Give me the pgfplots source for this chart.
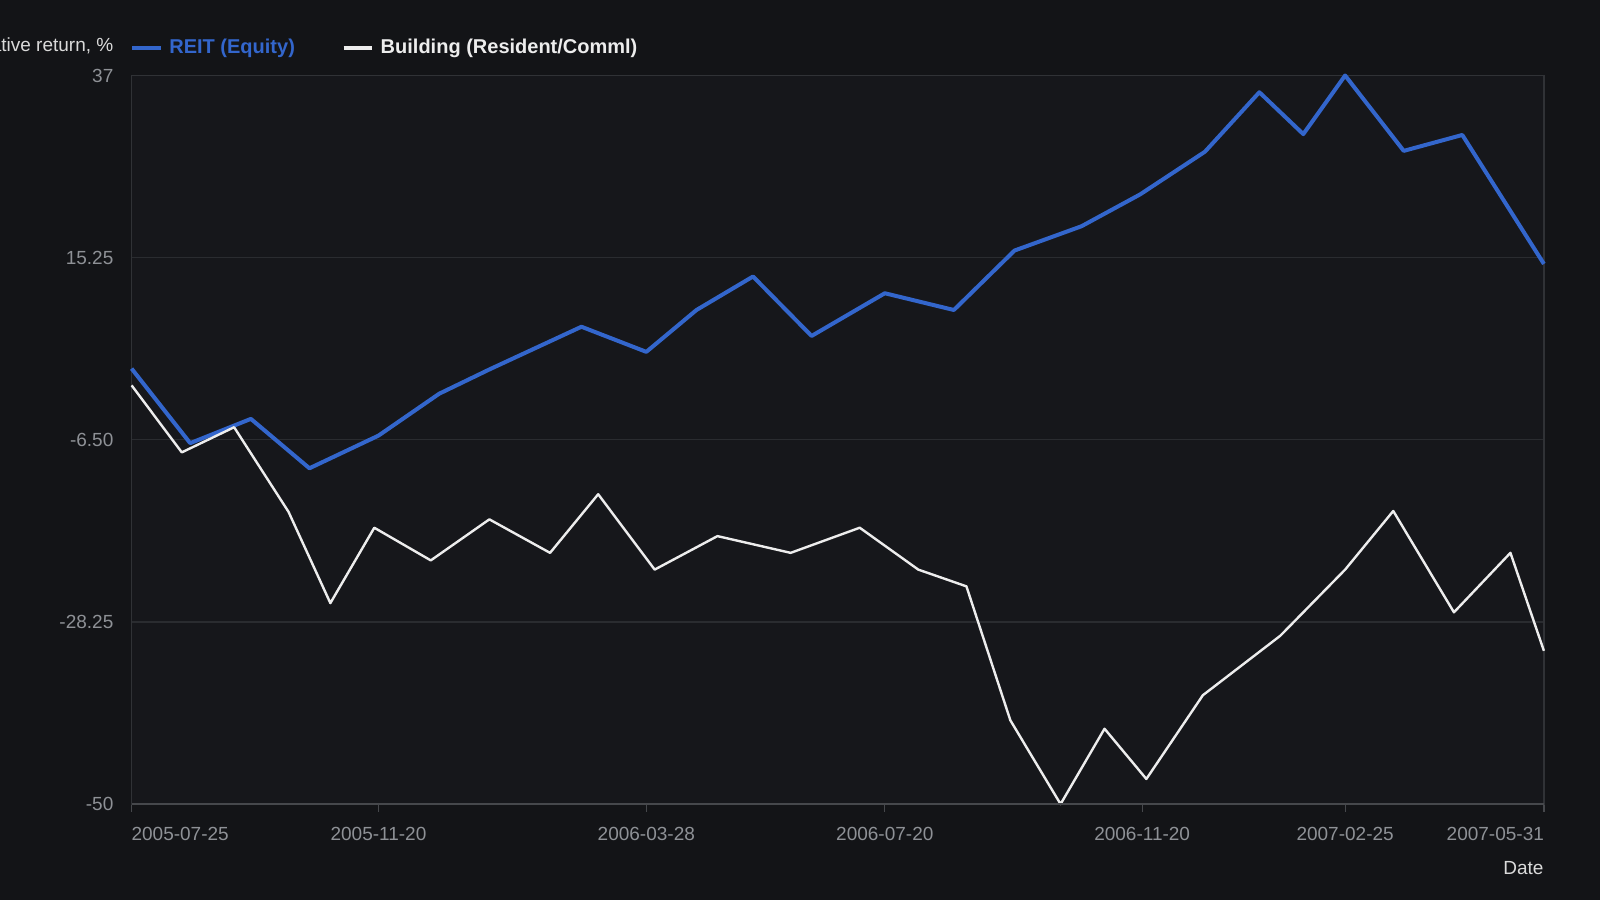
\documentclass[border=0pt]{standalone}
\usepackage{fontspec}
\setmainfont{Liberation Sans}
\usepackage{pgfplots}
\pgfplotsset{compat=1.18}

\definecolor{bg}{HTML}{131417}
\definecolor{plotbg}{HTML}{16171B}
\definecolor{gridc}{HTML}{2A2C30}
\definecolor{axisc}{HTML}{303236}
\definecolor{basec}{HTML}{46484C}
\definecolor{tickc}{HTML}{8E9196}
\definecolor{labelc}{HTML}{DADADA}
\definecolor{reit}{HTML}{3366CC}
\definecolor{bldg}{HTML}{EDEDED}

\begin{document}
\begin{tikzpicture}
\fill[bg] (0,0) rectangle (800pt,450pt);
\useasboundingbox (0,0) rectangle (800pt,450pt);

\begin{axis}[
  at={(65.8pt,47.95pt)}, anchor=south west,
  scale only axis,
  width=706.15pt, height=364.3pt,
  xmin=0, xmax=675,
  ymin=-50, ymax=37,
  clip=false,
  axis background/.style={fill=plotbg},
  axis line style={draw=axisc, line width=0.7pt},
  ymajorgrids,
  grid style={draw=gridc, line width=0.6pt},
  tick pos=left,
  tick align=outside,
  major tick length=4pt,
  xtick style={draw=basec, line width=0.6pt},
  ytick style={draw=none},
  xtick={0,118,246,360,483,580,675},
  xticklabels={\makebox[0pt][l]{2005-07-25},2005-11-20,2006-03-28,2006-07-20,2006-11-20,2007-02-25,\makebox[0pt][r]{2007-05-31}},
  ytick={-50,-28.25,-6.5,15.25,37},
  yticklabels={-50,-28.25,-6.50,15.25,37},
  tick label style={font=\fontsize{9.5}{11}\selectfont, text=tickc},
  xticklabel style={yshift=-4.2pt},
  yticklabel style={xshift=-1.6pt},
  ylabel={Cumulative return, \%},
  xlabel={Date},
  every axis y label/.style={at={(rel axis cs:0,1)}, anchor=east, xshift=-5.6pt, yshift=15pt,
    font=\fontsize{9.5}{11}\selectfont, text=labelc},
  every axis x label/.style={at={(rel axis cs:1,0)}, anchor=east, inner sep=0pt, yshift=-31.8pt,
    font=\fontsize{9.5}{11}\selectfont, text=labelc},
  legend columns=2,
  legend image code/.code={\draw[#1, line width=2pt] (0pt,0pt) -- (14.3pt,0pt);},
  legend style={at={(rel axis cs:0,1)}, anchor=west, xshift=-0.8pt, yshift=13.9pt,
    draw=none, fill=none, inner sep=0pt,
    nodes={inner sep=0pt, font=\fontsize{10}{12}\selectfont\bfseries},
    /tikz/every odd column/.append style={column sep=3.2pt},
    /tikz/every even column/.append style={column sep=23.4pt}},
]
\addplot[reit, line width=2pt, line join=round] coordinates {
(0,2.0) (28,-6.9) (57,-4.0) (85,-9.9) (118,-6.0) (147,-1.0) (171,1.9)
(215,7.0) (246,4.0) (270,9.0) (297,13.0) (325,5.9) (360,11.0) (393,9.0)
(422,16.1) (454,19.0) (482,22.8) (513,27.9) (539,35.0) (560,30.0)
(580,37.0) (608,28.0) (636,29.9) (675,14.5)
};
\addlegendentry{\textcolor{reit}{REIT (Equity)}}
\addplot[bldg, line width=1.2pt, line join=round] coordinates {
(0,0.0) (24,-8.0) (49,-5.0) (75,-15.1) (95,-26.0) (116,-17.0) (143,-20.9)
(171,-16.0) (200,-20.0) (223,-13.0) (250,-22.0) (280,-18.0) (315,-20.0)
(348,-17.0) (376,-22.0) (399,-24.0) (420,-40.0) (444,-50.0) (465,-41.0)
(485,-47.0) (512,-37.0) (549,-29.9) (580,-22.0) (603,-15.0) (632,-27.1)
(659,-20.0) (675,-31.7)
};
\addlegendentry{\textcolor{bldg}{Building (Resident/Comml)}}
\draw[basec, line width=0.8pt] (rel axis cs:0,0) -- (rel axis cs:1,0);
\end{axis}
\end{tikzpicture}
\end{document}
